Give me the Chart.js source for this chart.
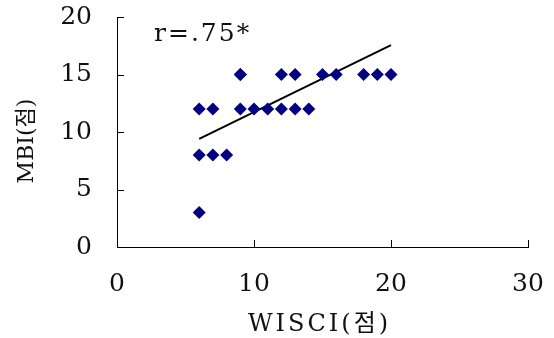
<!DOCTYPE html>
<html lang="ko">
<head>
    <meta charset="UTF-8">
    <title>WISCI - MBI scatter</title>
    <script src="https://cdn.jsdelivr.net/npm/chart.js"></script>
    <style>
        html, body { margin: 0; padding: 0; background: #fff; overflow: hidden; }
    </style>
</head>
<body>
<canvas id="scatterChart" width="554" height="338"></canvas>
<script>
    // data
    const wisci = [6, 7, 8, 6, 6, 7, 9, 9, 10, 11, 12, 13, 14, 9, 12, 13, 15, 16, 18, 19, 20];
    const mbi   = [3, 8, 8, 8, 12, 12, 12, 15, 12, 12, 12, 12, 12, 15, 15, 15, 15, 15, 15, 15, 15];
    const trendX = [6, 20];
    const trendY = [9.4, 17.55];
    const xTicks = [0, 10, 20, 30];
    const yTicks = [0, 5, 10, 15, 20];
    const corrLabel = 'r=.75*';
    const xTitle = 'WISCI(점)';
    const yTitle = 'MBI(점)';

    const serif = "'DejaVu Serif', 'Noto Sans CJK KR', serif";
    const textColor = '#111';

    // inward tick marks, axis titles and the r label
    const decorations = {
        id: 'decorations',
        afterDraw(chart) {
            const { ctx, chartArea, scales: { x, y } } = chart;
            ctx.save();
            ctx.strokeStyle = '#000';
            ctx.lineWidth = 1;
            ctx.beginPath();
            yTicks.forEach(v => {
                const py = Math.round(y.getPixelForValue(v)) + 0.5;
                ctx.moveTo(x.left, py);
                ctx.lineTo(x.left + 7, py);
            });
            xTicks.forEach(v => {
                const px = Math.round(x.getPixelForValue(v)) + 0.5;
                ctx.moveTo(px, y.bottom);
                ctx.lineTo(px, y.bottom - 7);
            });
            ctx.stroke();

            ctx.fillStyle = textColor;
            ctx.textBaseline = 'middle';

            ctx.font = '25px ' + serif;
            ctx.letterSpacing = '2px';
            ctx.textAlign = 'left';
            ctx.fillText(corrLabel, x.getPixelForValue(2.7), y.getPixelForValue(18.5));

            ctx.font = '24px ' + serif;
            ctx.letterSpacing = '3px';
            ctx.textAlign = 'center';
            ctx.fillText(xTitle, (chartArea.left + chartArea.right) / 2 - 3, chart.height - 13);

            ctx.font = '22px ' + serif;
            ctx.letterSpacing = '0px';
            ctx.translate(27, (chartArea.top + chartArea.bottom) / 2 + 9);
            ctx.rotate(-Math.PI / 2);
            ctx.fillText(yTitle, 0, 0);
            ctx.restore();
        }
    };

    const noPad = s => { s.paddingTop = 0; s.paddingBottom = 0; s.paddingLeft = 0; s.paddingRight = 0; };

    const ctx = document.getElementById('scatterChart').getContext('2d');
    new Chart(ctx, {
        type: 'scatter',
        data: {
            datasets: [{
                label: 'MBI',
                data: wisci.map((v, i) => ({ x: v, y: mbi[i] })),
                pointStyle: 'rectRot',
                pointRadius: 6.5,
                backgroundColor: '#000080',
                borderColor: '#000080',
                borderWidth: 0
            }, {
                type: 'line',
                label: 'trend',
                data: trendX.map((v, i) => ({ x: v, y: trendY[i] })),
                borderColor: '#000',
                borderWidth: 2,
                pointRadius: 0,
                fill: false
            }]
        },
        options: {
            responsive: false,
            animation: false,
            devicePixelRatio: 1,
            layout: { padding: { top: 17, right: 26, left: 0, bottom: 0 } },
            plugins: {
                legend: { display: false },
                tooltip: { enabled: false }
            },
            scales: {
                x: {
                    type: 'linear',
                    min: 0, max: 30,
                    afterBuildTicks: s => { s.ticks = xTicks.map(v => ({ value: v })); },
                    afterFit: s => { s.height = 91; noPad(s); },
                    grid: { display: true, drawOnChartArea: false, drawTicks: false },
                    border: { color: '#000', width: 1 },
                    ticks: { color: textColor, font: { family: serif, size: 25 }, padding: 22, maxRotation: 0 }
                },
                y: {
                    type: 'linear',
                    min: 0, max: 20,
                    afterBuildTicks: s => { s.ticks = yTicks.map(v => ({ value: v })); },
                    afterFit: s => { s.width = 117; noPad(s); },
                    grid: { display: true, drawOnChartArea: false, drawTicks: false },
                    border: { color: '#000', width: 1 },
                    ticks: { color: textColor, font: { family: serif, size: 25 }, padding: 25 }
                }
            }
        },
        plugins: [decorations]
    });
</script>
</body>
</html>
